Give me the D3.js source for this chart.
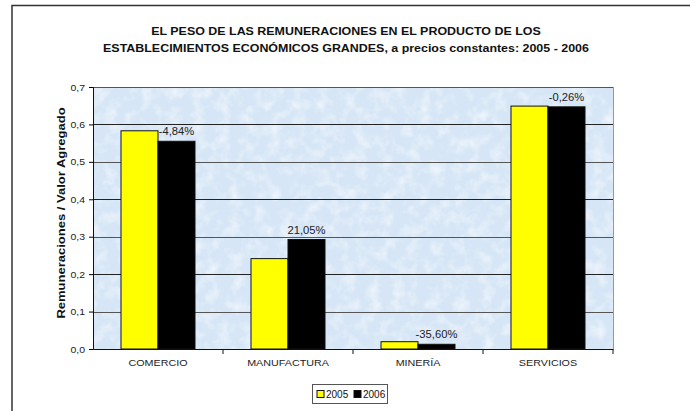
<!DOCTYPE html>
<html>
<head>
<meta charset="utf-8">
<script src="https://cdn.jsdelivr.net/npm/d3@7"></script>
<style>
  body { margin: 0; background: #fff; }
  text { font-family: Arial, "Liberation Sans", sans-serif; }
</style>
</head>
<body>
<svg id="chart" width="690" height="411"></svg>
<script>
var categories = ["COMERCIO", "MANUFACTURA", "MINERÍA", "SERVICIOS"];
var years = ["2005", "2006"];
var values2005 = [0.583, 0.2415, 0.0195, 0.649];
var values2006 = [0.555, 0.2925, 0.0126, 0.647];
var changeLabels = ["-4,84%", "21,05%", "-35,60%", "-0,26%"];
var yTicks = [0, 0.1, 0.2, 0.3, 0.4, 0.5, 0.6, 0.7];

var colors = {"2005": "#ffff00", "2006": "#000000"};

var svg = d3.select("#chart");
var margin = {left: 93, top: 87, right: 77, bottom: 62};
var width = 690 - margin.left - margin.right,
    height = 411 - margin.top - margin.bottom;

// the source picture is a bit wider than normal Arial, so stretch text horizontally
function stretch(sel, k) {
  sel.each(function() {
    var len = this.getComputedTextLength();
    d3.select(this).attr("textLength", len * k).attr("lengthAdjust", "spacingAndGlyphs");
  });
}

// outer frame (only top and left visible in the picture)
svg.append("path")
   .attr("d", "M12,411 L12,5.5 L690,5.5")
   .attr("fill", "none")
   .attr("stroke", "#333")
   .attr("stroke-width", 1.5);

// texture for the plot background
var defs = svg.append("defs");
var f = defs.append("filter").attr("id", "paper")
            .attr("x", 0).attr("y", 0).attr("width", "100%").attr("height", "100%");
f.append("feTurbulence").attr("type", "fractalNoise").attr("baseFrequency", 0.08)
 .attr("numOctaves", 3).attr("seed", 4).attr("result", "noise");
f.append("feColorMatrix").attr("type", "matrix")
 .attr("values", "0 0 0 0 0.97  0 0 0 0 0.98  0 0 0 0 1.0  0 0 0 -2.2 1.25")
 .attr("in", "noise");

var g = svg.append("g").attr("transform", `translate(${margin.left},${margin.top})`);

var x0 = d3.scaleBand().domain(categories).range([0, width]).paddingInner(0).paddingOuter(0);
var x1 = d3.scaleBand().domain(years).range([0, 74]);
var y = d3.scaleLinear().domain([0, 0.7]).range([height, 0]);

g.append("rect").attr("width", width).attr("height", height).attr("fill", "#d6e6f6");
g.append("rect").attr("width", width).attr("height", height).attr("fill", "#fff")
 .attr("filter", "url(#paper)").attr("opacity", 0.6);

// gridlines
g.append("g")
 .selectAll("line")
 .data(yTicks.slice(1))
 .enter().append("line")
 .attr("x1", 0).attr("x2", width)
 .attr("y1", d => Math.round(y(d)) + 0.5).attr("y2", d => Math.round(y(d)) + 0.5)
 .attr("stroke", (d, i) => i % 2 ? "#222" : "#555")
 .attr("stroke-width", 1);

// right border of plot area
g.append("line").attr("x1", width + 0.5).attr("x2", width + 0.5)
 .attr("y1", 0).attr("y2", height).attr("stroke", "#999");

var groups = g.selectAll(".cat")
  .data(categories)
  .enter().append("g")
  .attr("class", "cat")
  .attr("transform", d => `translate(${x0(d) + (x0.bandwidth() - 74) / 2},0)`);

groups.selectAll("rect")
  .data((d, i) => [{year: "2005", v: values2005[i]}, {year: "2006", v: values2006[i]}])
  .enter().append("rect")
  .attr("x", d => x1(d.year))
  .attr("y", d => y(d.v))
  .attr("width", x1.bandwidth())
  .attr("height", d => height - y(d.v))
  .attr("fill", d => colors[d.year])
  .attr("stroke", "#111")
  .attr("stroke-width", 1);

var pct = groups.append("text")
  .attr("x", x1("2006") + x1.bandwidth() / 2)
  .attr("y", (d, i) => y(values2006[i]) - 6)
  .attr("text-anchor", "middle")
  .attr("font-size", 10)
  .attr("fill", "#222")
  .text((d, i) => changeLabels[i]);
stretch(pct, 1.12);

// y axis
var yAxis = d3.axisLeft(y).tickValues(yTicks).tickSize(4).tickPadding(4)
  .tickFormat(d => d3.format(".1f")(d).replace(".", ","));
var ya = g.append("g").call(yAxis);
ya.select(".domain").attr("stroke", "#111");
ya.selectAll("text").attr("font-size", 9.5).attr("fill", "#222")
  .attr("font-family", "Arial, 'Liberation Sans', sans-serif");
stretch(ya.selectAll("text"), 1.1);

// x axis
var xa = g.append("g").attr("transform", `translate(0,${height})`)
  .call(d3.axisBottom(x0).tickSize(0).tickPadding(10));
xa.select(".domain").attr("stroke", "#111").attr("stroke-width", 1.2);
xa.selectAll("text").attr("font-size", 9.5).attr("fill", "#222")
  .attr("font-family", "Arial, 'Liberation Sans', sans-serif");
stretch(xa.selectAll("text"), 1.13);
g.append("g").selectAll("line")
  .data(categories)
  .enter().append("line")
  .attr("x1", d => x0(d) + x0.bandwidth()).attr("x2", d => x0(d) + x0.bandwidth())
  .attr("y1", height).attr("y2", height + 5)
  .attr("stroke", "#111");

// axis title
var yt = svg.append("text")
   .attr("transform", "translate(65,213) rotate(-90)")
   .attr("text-anchor", "middle")
   .attr("font-size", 11.5)
   .attr("font-weight", "bold")
   .attr("fill", "#111")
   .text("Remuneraciones / Valor Agregado");
stretch(yt, 1.13);

// chart title
var titleLines = ["EL PESO DE LAS REMUNERACIONES EN EL PRODUCTO DE LOS",
                  "ESTABLECIMIENTOS ECONÓMICOS GRANDES, a precios constantes: 2005 - 2006"];
var title = svg.selectAll(".title").data(titleLines).enter().append("text")
   .attr("class", "title")
   .attr("x", 346).attr("y", (d, i) => 35 + i * 17)
   .attr("text-anchor", "middle")
   .attr("font-size", 11).attr("font-weight", "bold").attr("fill", "#111")
   .text(d => d);
stretch(title, 1.13);

// legend
var lg = svg.append("g").attr("transform", "translate(312,384)");
lg.append("rect").attr("x", 0.5).attr("y", 0.5).attr("width", 75).attr("height", 19)
  .attr("fill", "#fff").attr("stroke", "#555");
var item = lg.selectAll(".item").data(years).enter().append("g")
  .attr("transform", (d, i) => `translate(${5 + i * 37},6)`);
item.append("rect").attr("width", 7).attr("height", 7).attr("y", 0.5)
  .attr("fill", d => colors[d]).attr("stroke", "#111");
item.append("text").attr("x", 9).attr("y", 8).attr("font-size", 10).attr("fill", "#111")
  .text(d => d);
</script>
</body>
</html>
